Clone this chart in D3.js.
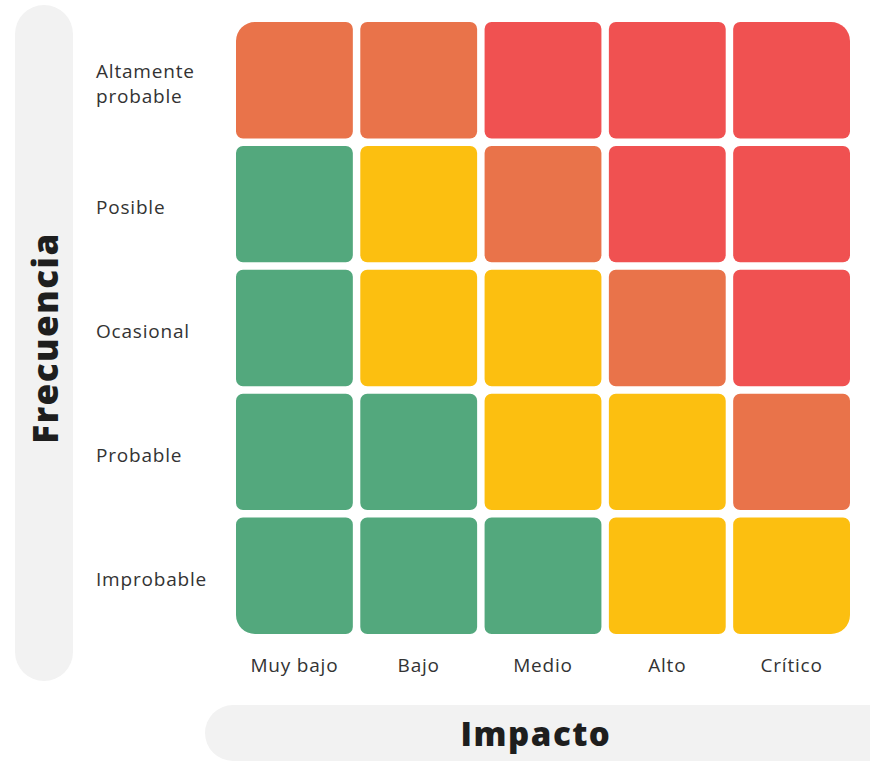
<!DOCTYPE html>
<html>
<head>
<meta charset="utf-8">
<script src="https://cdn.jsdelivr.net/npm/d3@7"></script>
<style>
  html, body { margin: 0; padding: 0; background: #fff; }
  svg { display: block; font-family: "Open Sans", sans-serif; }
</style>
</head>
<body>
<svg id="chart"></svg>
<script>
const width = 870, height = 761;

// categories
const impacto = ["Muy bajo", "Bajo", "Medio", "Alto", "Crítico"];
const frecuencia = ["Altamente probable", "Posible", "Ocasional", "Probable", "Improbable"];

// risk level per row (top -> bottom), per column (left -> right)
// 1 = bajo, 2 = moderado, 3 = alto, 4 = extremo
const altamente = [3, 3, 4, 4, 4];
const posible = [1, 2, 3, 4, 4];
const ocasional = [1, 2, 2, 3, 4];
const probable = [1, 1, 2, 2, 3];
const improbable = [1, 1, 1, 2, 2];
const levels = [altamente, posible, ocasional, probable, improbable];

const levelColors = ["#53a87d", "#fcbf10", "#e9734a", "#f05151"];

const margin = {top: 22, right: 20, bottom: 127, left: 236};

const svg = d3.select("#chart")
  .attr("width", width)
  .attr("height", height);

const x = d3.scaleBand()
  .domain(impacto)
  .range([margin.left, width - margin.right])
  .paddingInner(0.06);

const y = d3.scaleBand()
  .domain(frecuencia)
  .range([margin.top, height - margin.bottom])
  .paddingInner(0.06);

const color = d3.scaleOrdinal([1, 2, 3, 4], levelColors);

// rounded rect with its own radius per corner: tl, tr, br, bl
function roundRect(x0, y0, w, h, r) {
  const [tl, tr, br, bl] = r;
  const p = d3.path();
  p.moveTo(x0 + tl, y0);
  p.lineTo(x0 + w - tr, y0);
  p.arcTo(x0 + w, y0, x0 + w, y0 + tr, tr);
  p.lineTo(x0 + w, y0 + h - br);
  p.arcTo(x0 + w, y0 + h, x0 + w - br, y0 + h, br);
  p.lineTo(x0 + bl, y0 + h);
  p.arcTo(x0, y0 + h, x0, y0 + h - bl, bl);
  p.lineTo(x0, y0 + tl);
  p.arcTo(x0, y0, x0 + tl, y0, tl);
  p.closePath();
  return p.toString();
}

// axis title pills
svg.append("rect")
  .attr("x", 15).attr("y", 5)
  .attr("width", 58).attr("height", 676)
  .attr("rx", 29)
  .attr("fill", "#f2f2f2");

svg.append("text")
  .attr("transform", "translate(44,338) rotate(-90)")
  .attr("text-anchor", "middle")
  .attr("dominant-baseline", "central")
  .attr("font-size", 35)
  .attr("font-weight", 800)
  .attr("letter-spacing", 1.5)
  .attr("fill", "#1e1e1e")
  .text("Frecuencia");

svg.append("rect")
  .attr("x", 205).attr("y", 705)
  .attr("width", 700).attr("height", 56)
  .attr("rx", 28)
  .attr("fill", "#f2f2f2");

svg.append("text")
  .attr("x", 536).attr("y", 733)
  .attr("text-anchor", "middle")
  .attr("dominant-baseline", "central")
  .attr("font-size", 33)
  .attr("font-weight", 800)
  .attr("letter-spacing", 1.5)
  .attr("fill", "#1e1e1e")
  .text("Impacto");

// cells
const cells = [];
frecuencia.forEach((f, i) => {
  impacto.forEach((c, j) => {
    cells.push({row: f, col: c, i, j, level: levels[i][j]});
  });
});

const small = 7, big = 19;
const last = impacto.length - 1;

svg.append("g")
  .selectAll("path")
  .data(cells)
  .join("path")
  .attr("d", d => {
    const tl = (d.i === 0 && d.j === 0) ? big : small;
    const tr = (d.i === 0 && d.j === last) ? big : small;
    const br = (d.i === last && d.j === last) ? big : small;
    const bl = (d.i === last && d.j === 0) ? big : small;
    return roundRect(x(d.col), y(d.row), x.bandwidth(), y.bandwidth(), [tl, tr, br, bl]);
  })
  .attr("fill", d => color(d.level));

// row labels
const rowLabels = svg.append("g")
  .selectAll("text")
  .data(frecuencia)
  .join("text")
  .attr("x", 96)
  .attr("y", d => y(d) + y.bandwidth() / 2)
  .attr("font-size", 19)
  .attr("letter-spacing", 0.8)
  .attr("fill", "#333");

rowLabels.each(function(d) {
  const words = d === "Altamente probable" ? ["Altamente", "probable"] : [d];
  const t = d3.select(this);
  const lh = 25;
  const start = -(words.length - 1) * lh / 2;
  words.forEach((w, k) => {
    t.append("tspan")
      .attr("x", 96)
      .attr("dy", k === 0 ? start + 10 : lh)
      .text(w);
  });
});

// column labels
svg.append("g")
  .selectAll("text")
  .data(impacto)
  .join("text")
  .attr("x", d => x(d) + x.bandwidth() / 2)
  .attr("y", 672)
  .attr("text-anchor", "middle")
  .attr("font-size", 19)
  .attr("letter-spacing", 0.8)
  .attr("fill", "#333")
  .text(d => d);
</script>
</body>
</html>
